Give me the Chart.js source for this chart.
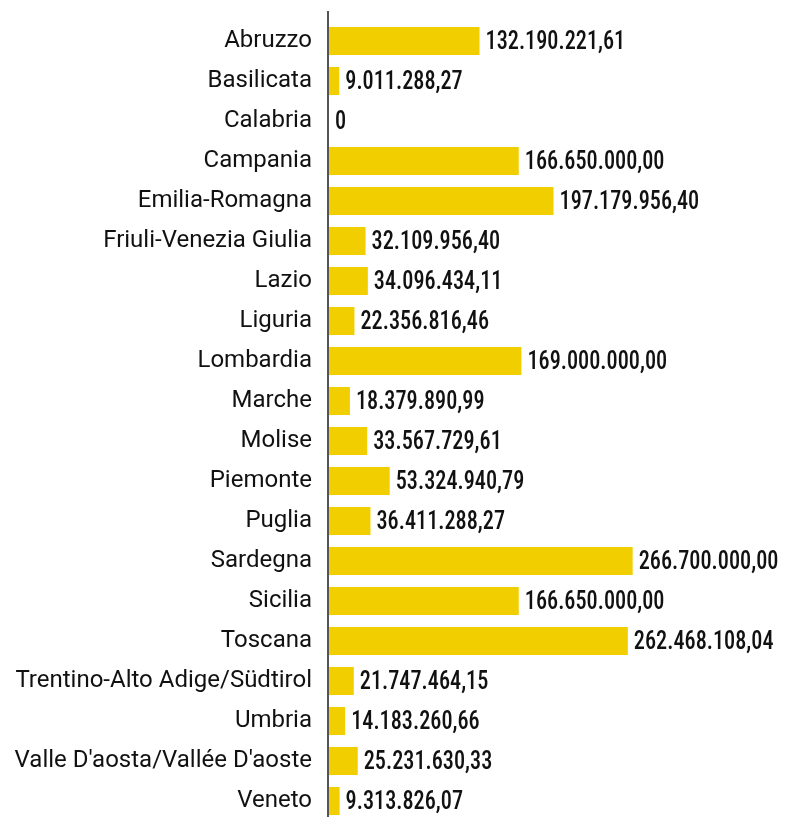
<!DOCTYPE html>
<html>
<head>
<meta charset="utf-8">
<script src="https://cdn.jsdelivr.net/npm/chart.js@4/dist/chart.umd.min.js"></script>
<style>
html,body{margin:0;padding:0;background:#fff;overflow:hidden;}
#wrap{position:relative;width:789px;height:821px;}
</style>
</head>
<body>
<div id="wrap"><canvas id="c"></canvas></div>
<script>
const regions = ["Abruzzo","Basilicata","Calabria","Campania","Emilia-Romagna","Friuli-Venezia Giulia","Lazio","Liguria","Lombardia","Marche","Molise","Piemonte","Puglia","Sardegna","Sicilia","Toscana","Trentino-Alto Adige/Südtirol","Umbria","Valle D'aosta/Vallée D'aoste","Veneto"];
const amounts = [132190221.61, 9011288.27, 0, 166650000.00, 197179956.40, 32109956.40, 34096434.11, 22356816.46, 169000000.00, 18379890.99, 33567729.61, 53324940.79, 36411288.27, 266700000.00, 166650000.00, 262468108.04, 21747464.15, 14183260.66, 25231630.33, 9313826.07];

function fmtIt(v){
  if(v===0) return "0";
  const cents = Math.round(v*100);
  let intPart = Math.floor(cents/100).toString();
  let dec = (cents%100).toString().padStart(2,"0");
  intPart = intPart.replace(/\B(?=(\d{3})+(?!\d))/g, ".");
  return intPart + "," + dec;
}

const valueLabels = {
  id:'valueLabels',
  afterDatasetsDraw(chart){
    const ctx = chart.ctx;
    const meta = chart.getDatasetMeta(0);
    const sx = 0.89;
    meta.data.forEach((bar,i)=>{
      ctx.save();
      ctx.fillStyle = '#111';
      ctx.font = '500 25px "Roboto Condensed", "Liberation Sans Narrow", "DejaVu Sans Condensed", sans-serif';
      ctx.textAlign = 'left';
      ctx.textBaseline = 'middle';
      ctx.translate(bar.x + 6, bar.y + 2);
      ctx.scale(sx, 1);
      ctx.fillText(fmtIt(amounts[i]), 0, 0);
      ctx.restore();
    });
  }
};

const axisLine = {
  id:'axisLine',
  afterDraw(chart){
    const ctx = chart.ctx;
    const x = chart.chartArea.left - 1;
    ctx.save();
    ctx.strokeStyle = '#555';
    ctx.lineWidth = 2;
    ctx.beginPath();
    ctx.moveTo(x, 11);
    ctx.lineTo(x, chart.height);
    ctx.stroke();
    ctx.restore();
  }
};

new Chart(document.getElementById('c'), {
  type:'bar',
  data:{
    labels: regions,
    datasets:[{
      data: amounts,
      backgroundColor:'#F0CE00',
      borderWidth:0,
      barPercentage:0.7,
      categoryPercentage:1.0
    }]
  },
  options:{
    indexAxis:'y',
    responsive:true,
    maintainAspectRatio:false,
    animation:false,
    layout:{padding:{top:21,right:0,bottom:0,left:0}},
    plugins:{legend:{display:false},tooltip:{enabled:false}},
    scales:{
      x:{display:false,min:0,max:404000000},
      y:{
        grid:{display:false,drawTicks:false},
        border:{display:false},
        afterFit(scale){scale.width = 329; scale.paddingTop = 0; scale.paddingBottom = 0;},
        ticks:{
          padding:17,
          color:'#111',
          font:{family:'Roboto',size:24}
        }
      }
    }
  },
  plugins:[valueLabels, axisLine]
});
</script>
</body>
</html>
